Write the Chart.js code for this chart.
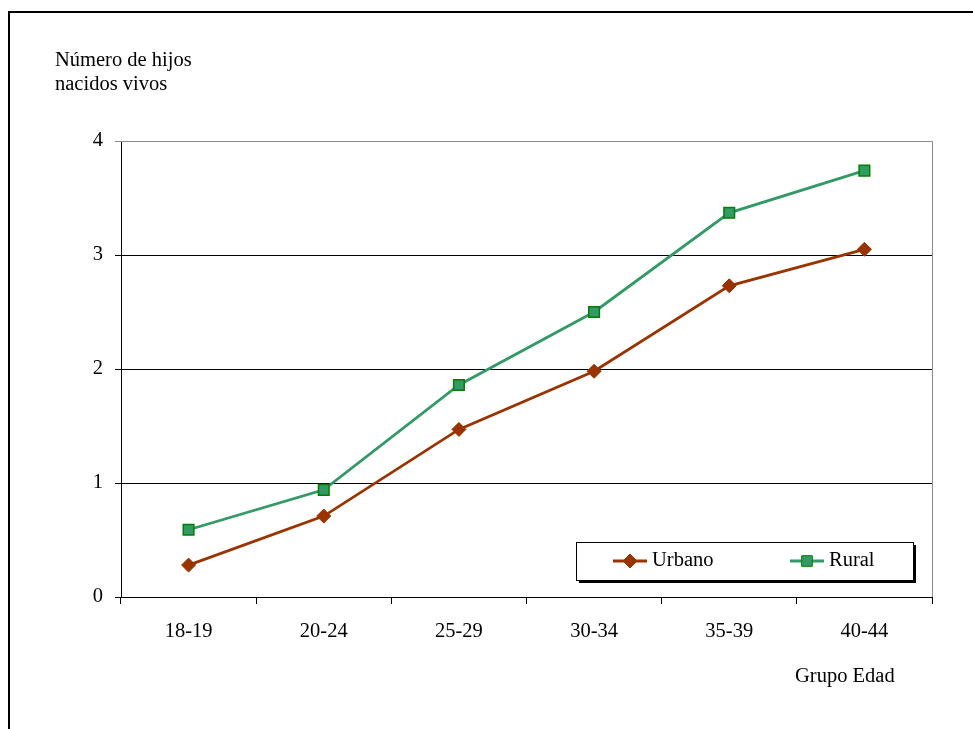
<!DOCTYPE html>
<html>
<head>
<meta charset="utf-8">
<script src="https://cdn.jsdelivr.net/npm/chart.js@4/dist/chart.umd.min.js"></script>
<style>
    html, body { margin: 0; padding: 0; background: #fff; }
    #wrap { width: 973px; height: 729px; }
</style>
</head>
<body>
<div id="wrap"><canvas id="chart" width="973" height="729"></canvas></div>
<script>
(function(){
    var grupos = ["18-19", "20-24", "25-29", "30-34", "35-39", "40-44"];
    var urbano = [0.28, 0.71, 1.47, 1.98, 2.73, 3.05];
    var rural = [0.59, 0.94, 1.86, 2.50, 3.37, 3.74];
    var yTicks = [0, 1, 2, 3, 4];

    var serif = "'Liberation Serif', 'Times New Roman', serif";
    var fontSize = 20.5;

    // frame of the whole figure, axis titles and the boxed legend
    var decor = {
        id: "decor",
        beforeDraw: function(chart){
            var ctx = chart.ctx;
            ctx.save();
            ctx.fillStyle = "#fff";
            ctx.fillRect(0, 0, chart.width, chart.height);
            ctx.strokeStyle = "#000";
            ctx.lineWidth = 2;
            ctx.strokeRect(9, 12, 1000, 1000);
            ctx.restore();
        },
        afterDraw: function(chart){
            var ctx = chart.ctx;
            var a = chart.chartArea;
            ctx.save();
            // plot area edge (top / right)
            ctx.strokeStyle = "#8c8c8c";
            ctx.lineWidth = 1;
            ctx.beginPath();
            ctx.moveTo(a.left, a.top + 0.5);
            ctx.lineTo(a.right + 0.5, a.top + 0.5);
            ctx.lineTo(a.right + 0.5, a.bottom);
            ctx.stroke();

            ctx.fillStyle = "#000";
            ctx.font = fontSize + "px " + serif;
            ctx.textBaseline = "middle";
            ctx.textAlign = "left";
            ctx.fillText("Número de hijos", 55, 61);
            ctx.fillText("nacidos vivos", 55, 85);
            ctx.fillText("Grupo Edad", 795, 677);

            // legend
            var lx = 576, ly = 542, lw = 337, lh = 38;
            ctx.fillStyle = "#000";
            ctx.fillRect(lx + 3, ly + 3, lw, lh);
            ctx.fillStyle = "#fff";
            ctx.fillRect(lx, ly, lw, lh);
            ctx.strokeStyle = "#000";
            ctx.lineWidth = 1;
            ctx.strokeRect(lx + 0.5, ly + 0.5, lw, lh);
            var cy = ly + lh / 2;
            var entries = [{ds: chart.data.datasets[0], x: 613}, {ds: chart.data.datasets[1], x: 790}];
            entries.forEach(function(e){
                ctx.strokeStyle = e.ds.borderColor;
                ctx.lineWidth = e.ds.borderWidth;
                ctx.beginPath();
                ctx.moveTo(e.x, cy);
                ctx.lineTo(e.x + 34, cy);
                ctx.stroke();
                ctx.fillStyle = e.ds.pointBackgroundColor;
                ctx.strokeStyle = e.ds.pointBorderColor;
                ctx.lineWidth = 1;
                Chart.helpers.drawPoint(ctx, {pointStyle: e.ds.pointStyle, radius: e.ds.pointRadius, borderWidth: 1}, e.x + 17, cy);
                ctx.fillStyle = "#000";
                ctx.textAlign = "left";
                ctx.fillText(e.ds.label, e.x + 39, cy);
            });
            ctx.restore();
        }
    };

    new Chart(document.getElementById("chart"), {
        type: "line",
        data: {
            labels: grupos,
            datasets: [{
                label: "Urbano",
                data: urbano,
                borderColor: "#993300",
                borderWidth: 2.8,
                pointStyle: "rectRot",
                pointRadius: 7,
                pointBackgroundColor: "#993300",
                pointBorderColor: "#993300",
                pointBorderWidth: 1,
                tension: 0
            }, {
                label: "Rural",
                data: rural,
                borderColor: "#339966",
                borderWidth: 2.8,
                pointStyle: "rect",
                pointRadius: 7.5,
                pointBackgroundColor: "#339966",
                pointBorderColor: "#008000",
                pointBorderWidth: 1.5,
                tension: 0
            }]
        },
        options: {
            responsive: false,
            animation: false,
            layout: { padding: { left: 0, top: 141, right: 41, bottom: 0 } },
            plugins: {
                legend: { display: false },
                tooltip: { enabled: false }
            },
            scales: {
                x: {
                    offset: true,
                    afterFit: function(s){ s.height = 132; },
                    grid: {
                        offset: true,
                        drawOnChartArea: false,
                        drawTicks: true,
                        tickLength: 7,
                        color: "#000"
                    },
                    border: { color: "#000", width: 1 },
                    ticks: {
                        color: "#000",
                        padding: 15,
                        maxRotation: 0,
                        font: { family: serif, size: fontSize }
                    }
                },
                y: {
                    min: 0,
                    max: 4,
                    afterFit: function(s){ s.width = 121; },
                    afterBuildTicks: function(s){
                        s.ticks = yTicks.map(function(v){ return {value: v}; });
                    },
                    grid: {
                        color: function(c){ return c.tick && c.tick.value === 4 ? "#8c8c8c" : "#000"; },
                        lineWidth: 1,
                        drawTicks: true,
                        tickLength: 6
                    },
                    border: { color: "#000", width: 1 },
                    ticks: {
                        color: "#000",
                        padding: 12,
                        font: { family: serif, size: fontSize }
                    }
                }
            }
        },
        plugins: [decor]
    });
})();
</script>
</body>
</html>
